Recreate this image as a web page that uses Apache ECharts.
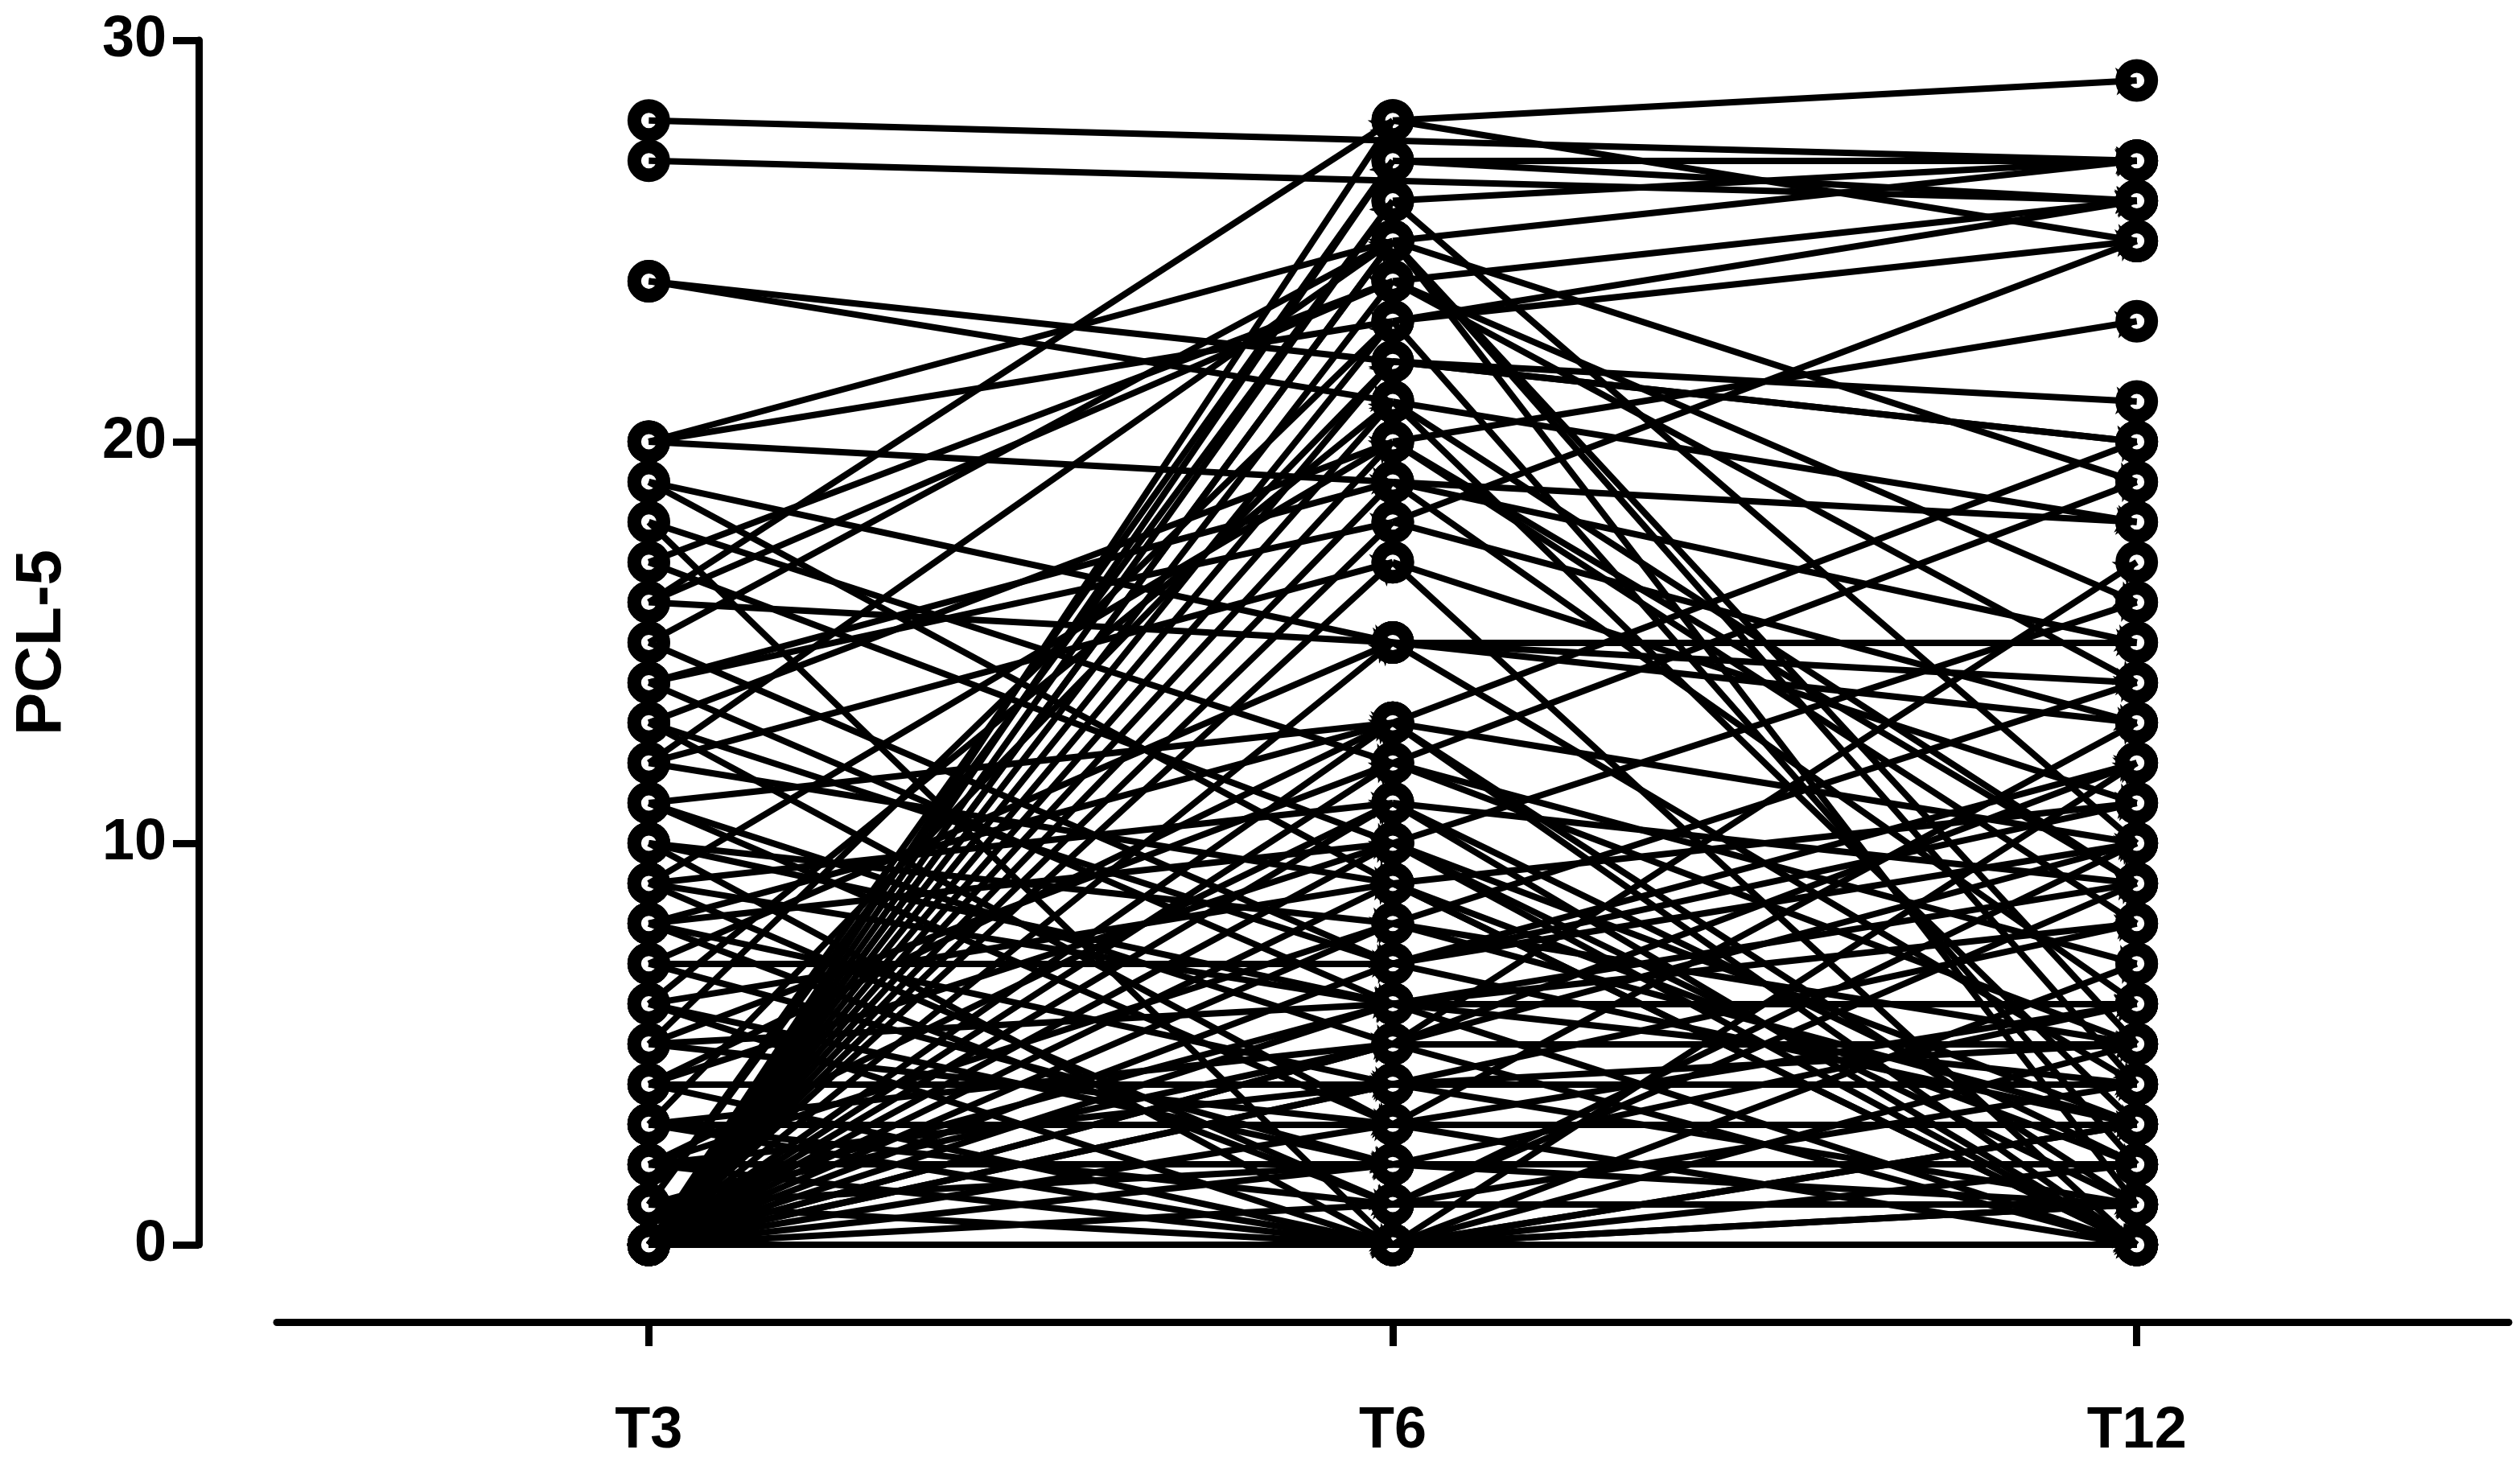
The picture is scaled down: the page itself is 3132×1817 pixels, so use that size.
<!DOCTYPE html>
<html>
<head>
<meta charset="utf-8">
<script src="https://cdn.jsdelivr.net/npm/echarts@6/dist/echarts.min.js"></script>
<style>
  html, body { margin: 0; padding: 0; background: #fff; }
  #chart { width: 3132px; height: 1817px; }
</style>
</head>
<body>
<div id="chart"></div>
<script>
// time points
let times = ['T3', 'T6', 'T12'];
let yTicks = [0, 10, 20, 30];

// PCL-5 per subject (null = missing, line joins across)
let t3 = [28, 27, 24, 24, 20, 20, 20, 19, 18, 17, 16, 16, 15, 14, 14, 13, 13, 12, 12, 11,
  11, 10, 10, 9, 9, 9, 8, 8, 7, 7, 6, 6, 5, 5, 5, 4, 4, 4, 3, 3,
  3, 2, 2, 2, 1, 1, 1, 1, 0, 0, 0, 0, 0, 0, 0, 0, 0, 0, 0, 0,
  0, 0, 0, 0, 0, 0, 0, 0, 0, 0, 0, 0, 0, 0, 0, 0, 0, 0, 1, 2,
  3, 6, 8, 10, 12, 15, 16, 17, 18, 19, 11, 13, 14, 9, 0, 2, 3, 5, 7, 0,
  4, 6, 1, 8, 0];
let t6 = [null, null, 21, null, 25, 23, 19, 15, 12, 10, 24, 15, 7, 18, 6, 20, 3, 25, 9, 5,
  13, 0, 8, 11, 6, 1, 4, 10, 7, 2, 9, 0, 12, 3, 6, 4, 0, 10, 3, 1,
  5, 2, 0, 8, 26, 0, 5, 27, 0, 28, 27, 26, 25, 25, 24, 23, 22, 21, 20, 19,
  18, 17, 15, 13, 12, 11, 10, 9, 8, 6, 5, 4, 3, 2, 1, 0, 0, 0, 6, 4,
  0, 2, 13, 6, 17, 25, 28, 24, 0, 9, 3, 7, 19, 20, 7, 11, 22, 23, 15, null,
  13, 21, 2, 1, 5];
let t12 = [27, 26, 18, 20, 27, 26, 18, 13, 5, 3, 26, 15, 11, 25, 9, 9, 6, 4, 0, 12,
  20, 5, 14, 2, 6, 10, 4, 16, 3, 1, 11, 3, 19, 3, 8, 4, 2, 1, 3, 9,
  17, 2, 0, 5, 27, 1, 0, 26, 0, 29, 27, 10, 1, 5, 14, 2, 21, 3, 8, 6,
  13, 0, 4, 1, 7, 0, 0, 2, 3, 0, 5, 1, 0, 6, 4, 3, 7, 12, 6, 5,
  0, 2, 10, 4, 11, 19, 25, 16, 1, 0, 13, 12, 15, 23, 10, 9, 20, 25, 14, 8,
  0, 9, 2, 1, 10];

let font = 'Liberation Sans, Arial, sans-serif';

let segs = [];
let pts = [];
for (let i = 0; i < t3.length; i++) {
  let row = [t3[i], t6[i], t12[i]];
  let prev = -1;
  for (let k = 0; k < 3; k++) {
    if (row[k] == null) continue;
    pts.push([k, row[k]]);
    if (prev >= 0) {
      segs.push({ coords: [[prev, row[prev]], [k, row[k]]] });
    }
    prev = k;
  }
}

let chart = echarts.init(document.getElementById('chart'));
chart.setOption({
  animation: false,
  backgroundColor: '#fff',
  grid: { left: 344, right: 14, top: 50, bottom: 270 },
  xAxis: {
    type: 'category',
    data: times,
    boundaryGap: true,
    offset: 96,
    axisLine: { show: true, onZero: false, lineStyle: { color: '#000', width: 9 } },
    axisTick: { show: true, interval: 0, alignWithLabel: true, length: 30, lineStyle: { color: '#000', width: 9 } },
    axisLabel: { margin: 100, color: '#000', fontSize: 72, fontWeight: 'bold', fontFamily: font }
  },
  yAxis: {
    type: 'value',
    min: yTicks[0],
    max: yTicks[yTicks.length - 1],
    interval: 10,
    offset: 97,
    name: 'PCL-5',
    nameLocation: 'middle',
    nameGap: 154,
    nameTextStyle: { color: '#000', fontSize: 80, fontWeight: 'bold', fontFamily: font },
    axisLine: { show: true, lineStyle: { color: '#000', width: 9 } },
    axisTick: { show: true, length: 32, lineStyle: { color: '#000', width: 9 } },
    axisLabel: { margin: 40, color: '#000', fontSize: 72, fontWeight: 'bold', fontFamily: font },
    splitLine: { show: false }
  },
  series: [
    {
      type: 'scatter',
      data: pts,
      symbol: 'circle',
      symbolSize: 36,
      clip: false,
      z: 2,
      itemStyle: { color: '#fff', borderColor: '#000', borderWidth: 17, opacity: 1 }
    },
    {
      type: 'lines',
      coordinateSystem: 'cartesian2d',
      data: segs,
      symbol: ['none', 'arrow'],
      symbolSize: 26,
      clip: false,
      z: 3,
      lineStyle: { color: '#000', width: 8, opacity: 1, curveness: 0 }
    }
  ]
});
</script>
</body>
</html>
